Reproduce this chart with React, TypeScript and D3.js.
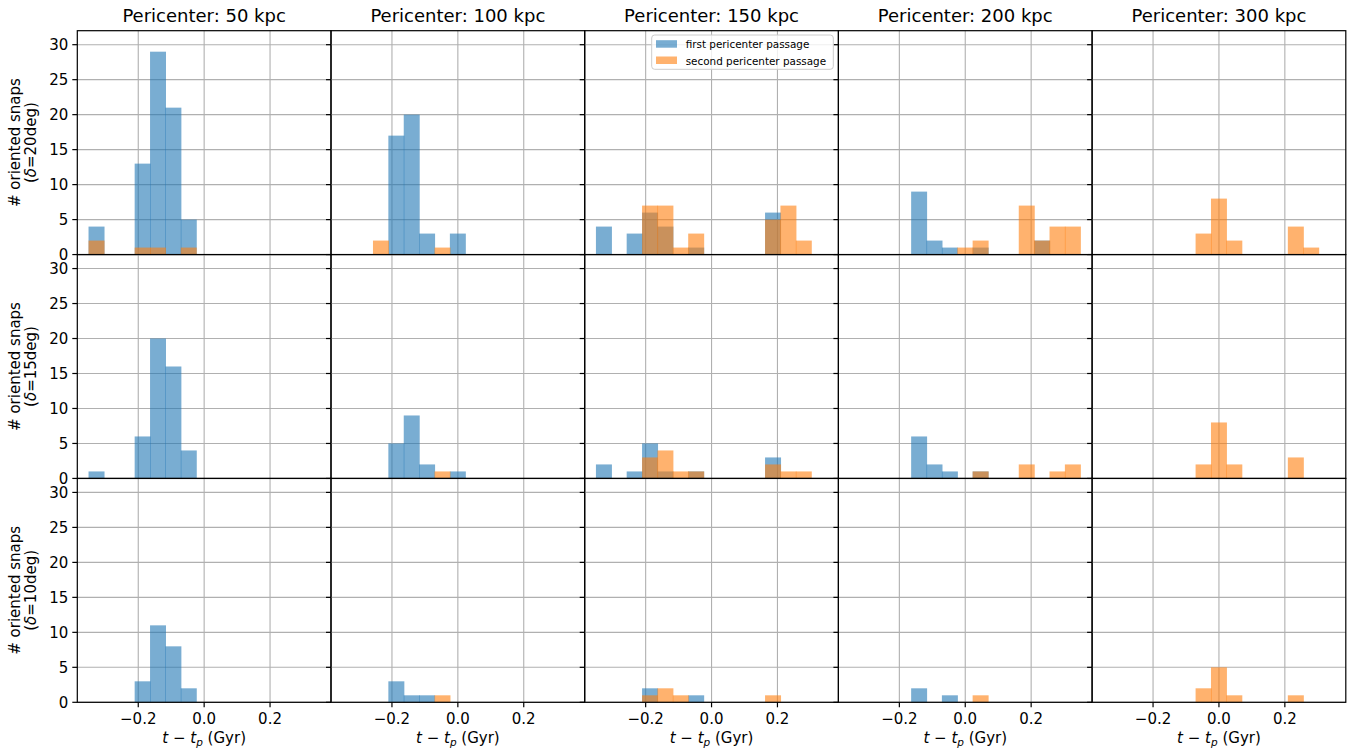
import * as d3 from "d3";

// histogram bins shared by every panel (15 bins from -0.35 to 0.35 Gyr)
const binEdges = [
  -0.35, -0.3033, -0.2567, -0.21, -0.1633, -0.1167, -0.07, -0.0233,
  0.0233, 0.07, 0.1167, 0.1633, 0.21, 0.2567, 0.3033, 0.35,
];

const pericenters = ["50", "100", "150", "200", "300"];
const deltas = ["20", "15", "10"];
const xTicks = [-0.2, 0, 0.2];
const yTicks = [0, 5, 10, 15, 20, 25, 30];

// counts per pericenter panel, first pericenter passage
const firstD20 = [
  [4, 0, 0, 13, 29, 21, 5, 0, 0, 0, 0, 0, 0, 0, 0],
  [0, 0, 0, 17, 20, 3, 0, 3, 0, 0, 0, 0, 0, 0, 0],
  [4, 0, 3, 6, 4, 0, 1, 0, 0, 0, 0, 6, 0, 0, 0],
  [0, 0, 0, 0, 9, 2, 1, 0, 1, 0, 0, 0, 2, 0, 0],
  [0, 0, 0, 0, 0, 0, 0, 0, 0, 0, 0, 0, 0, 0, 0],
];
const secondD20 = [
  [2, 0, 0, 1, 1, 0, 1, 0, 0, 0, 0, 0, 0, 0, 0],
  [0, 0, 2, 0, 0, 0, 1, 0, 0, 0, 0, 0, 0, 0, 0],
  [0, 0, 0, 7, 7, 1, 3, 0, 0, 0, 0, 5, 7, 2, 0],
  [0, 0, 0, 0, 0, 0, 0, 1, 2, 0, 0, 7, 2, 4, 4],
  [0, 0, 0, 0, 0, 0, 3, 8, 2, 0, 0, 0, 4, 1, 0],
];
const firstD15 = [
  [1, 0, 0, 6, 20, 16, 4, 0, 0, 0, 0, 0, 0, 0, 0],
  [0, 0, 0, 5, 9, 2, 0, 1, 0, 0, 0, 0, 0, 0, 0],
  [2, 0, 1, 5, 1, 0, 1, 0, 0, 0, 0, 3, 0, 0, 0],
  [0, 0, 0, 0, 6, 2, 1, 0, 1, 0, 0, 0, 0, 0, 0],
  [0, 0, 0, 0, 0, 0, 0, 0, 0, 0, 0, 0, 0, 0, 0],
];
const secondD15 = [
  [0, 0, 0, 0, 0, 0, 0, 0, 0, 0, 0, 0, 0, 0, 0],
  [0, 0, 0, 0, 0, 0, 1, 0, 0, 0, 0, 0, 0, 0, 0],
  [0, 0, 0, 3, 4, 1, 1, 0, 0, 0, 0, 2, 1, 1, 0],
  [0, 0, 0, 0, 0, 0, 0, 0, 1, 0, 0, 2, 0, 1, 2],
  [0, 0, 0, 0, 0, 0, 2, 8, 2, 0, 0, 0, 3, 0, 0],
];
const firstD10 = [
  [0, 0, 0, 3, 11, 8, 2, 0, 0, 0, 0, 0, 0, 0, 0],
  [0, 0, 0, 3, 1, 1, 0, 0, 0, 0, 0, 0, 0, 0, 0],
  [0, 0, 0, 2, 0, 0, 1, 0, 0, 0, 0, 0, 0, 0, 0],
  [0, 0, 0, 0, 2, 0, 1, 0, 0, 0, 0, 0, 0, 0, 0],
  [0, 0, 0, 0, 0, 0, 0, 0, 0, 0, 0, 0, 0, 0, 0],
];
const secondD10 = [
  [0, 0, 0, 0, 0, 0, 0, 0, 0, 0, 0, 0, 0, 0, 0],
  [0, 0, 0, 0, 0, 0, 1, 0, 0, 0, 0, 0, 0, 0, 0],
  [0, 0, 0, 1, 2, 1, 0, 0, 0, 0, 0, 1, 0, 0, 0],
  [0, 0, 0, 0, 0, 0, 0, 0, 1, 0, 0, 0, 0, 0, 0],
  [0, 0, 0, 0, 0, 0, 2, 5, 1, 0, 0, 0, 1, 0, 0],
];

const rows = [
  { first: firstD20, second: secondD20 },
  { first: firstD15, second: secondD15 },
  { first: firstD10, second: secondD10 },
];

const W = 1359;
const H = 753;
const left = 77.3;
const right = 1345.8;
const top = 30.7;
const bottom = 702.3;
const pw = (right - left) / 5;
const ph = (bottom - top) / 3;

const BLUE = "#1f77b4";
const ORANGE = "#ff7f0e";
const GRID = "#b0b0b0";
const FONT = "DejaVu Sans";

const x = d3.scaleLinear().domain([-0.385, 0.385]).range([0, pw]);
const y = d3.scaleLinear().domain([0, 32]).range([ph, 0]);
const fmt = d3.format(".1f");

function Bars({ counts, color }: { counts: number[]; color: string }) {
  return (
    <g fill={color} fillOpacity={0.6}>
      {counts.map((c, i) =>
        c > 0 ? (
          <rect
            key={i}
            x={x(binEdges[i]) - 0.3}
            y={y(c)}
            width={x(binEdges[i + 1]) - x(binEdges[i]) + 0.6}
            height={y(0) - y(c)}
          />
        ) : null
      )}
    </g>
  );
}

function Panel({ r, c }: { r: number; c: number }) {
  const ox = left + c * pw;
  const oy = top + r * ph;
  return (
    <g transform={`translate(${ox},${oy})`}>
      {/* grid */}
      <g stroke={GRID} strokeWidth={1.1}>
        {yTicks.map((t) => (
          <line key={"y" + t} x1={0} x2={pw} y1={y(t)} y2={y(t)} />
        ))}
        {xTicks.map((t) => (
          <line key={"x" + t} x1={x(t)} x2={x(t)} y1={0} y2={ph} />
        ))}
      </g>
      <Bars counts={rows[r].first[c]} color={BLUE} />
      <Bars counts={rows[r].second[c]} color={ORANGE} />
      <rect x={0} y={0} width={pw} height={ph} fill="none" stroke="#000" strokeWidth={1.2} />
      {/* left ticks */}
      <g stroke="#000" strokeWidth={1.2}>
        {yTicks.map((t) => (
          <line key={t} x1={-5} x2={0} y1={y(t)} y2={y(t)} />
        ))}
        {r === 2 &&
          xTicks.map((t) => (
            <line key={"bx" + t} x1={x(t)} x2={x(t)} y1={ph} y2={ph + 5} />
          ))}
      </g>
      {c === 0 &&
        yTicks.map((t) => (
          <text key={t} x={-9} y={y(t)} dy="0.36em" textAnchor="end" fontSize={15}>
            {t}
          </text>
        ))}
      {r === 2 &&
        xTicks.map((t) => (
          <text key={t} x={x(t)} y={ph + 21.5} textAnchor="middle" fontSize={15}>
            {fmt(t)}
          </text>
        ))}
      {r === 2 && (
        <text x={pw / 2} y={ph + 40.5} textAnchor="middle" fontSize={15}>
          <tspan fontStyle="italic">t</tspan>
          <tspan> − </tspan>
          <tspan fontStyle="italic">t</tspan>
          <tspan fontStyle="italic" fontSize={10.5} dy={3}>p</tspan>
          <tspan dy={-3}> (Gyr)</tspan>
        </text>
      )}
      {r === 0 && (
        <text x={pw / 2} y={-9} textAnchor="middle" fontSize={18}>
          {`Pericenter: ${pericenters[c]} kpc`}
        </text>
      )}
      {c === 0 && (
        <g transform={`translate(0,${ph / 2}) rotate(-90)`}>
          <text x={0} y={20 - left} textAnchor="middle" fontSize={15}>
            # oriented snaps
          </text>
          <text x={0} y={35.5 - left} textAnchor="middle" fontSize={15}>
            <tspan>(</tspan>
            <tspan fontStyle="italic">δ</tspan>
            <tspan>{`=${deltas[r]}deg)`}</tspan>
          </text>
        </g>
      )}
    </g>
  );
}

function Legend() {
  const bx = left + 3 * pw - 5.1 - 181.6;
  const by = top + 4.3;
  const items = [
    { label: "first pericenter passage", color: BLUE },
    { label: "second pericenter passage", color: ORANGE },
  ];
  return (
    <g>
      <rect
        x={bx}
        y={by}
        width={181.6}
        height={34.3}
        rx={3}
        fill="#fff"
        fillOpacity={0.8}
        stroke="#cccccc"
        strokeWidth={1}
      />
      {items.map((it, i) => (
        <g key={it.label}>
          <rect
            x={bx + 4.3}
            y={by + 5.2 + i * 16.3}
            width={21}
            height={7.5}
            fill={it.color}
            fillOpacity={0.6}
          />
          <text x={bx + 34} y={by + 13.2 + i * 16.3} fontSize={10.4}>
            {it.label}
          </text>
        </g>
      ))}
    </g>
  );
}

export default function App() {
  const cells: { r: number; c: number }[] = [];
  for (let r = 0; r < 3; r++) for (let c = 0; c < 5; c++) cells.push({ r, c });
  return (
    <svg
      width={W}
      height={H}
      style={{ position: "absolute", left: 0, top: 0, background: "#fff" }}
      fontFamily={FONT}
      fill="#000"
    >
      <rect width={W} height={H} fill="#fff" />
      {cells.map(({ r, c }) => (
        <Panel key={`${r}-${c}`} r={r} c={c} />
      ))}
      <Legend />
    </svg>
  );
}
